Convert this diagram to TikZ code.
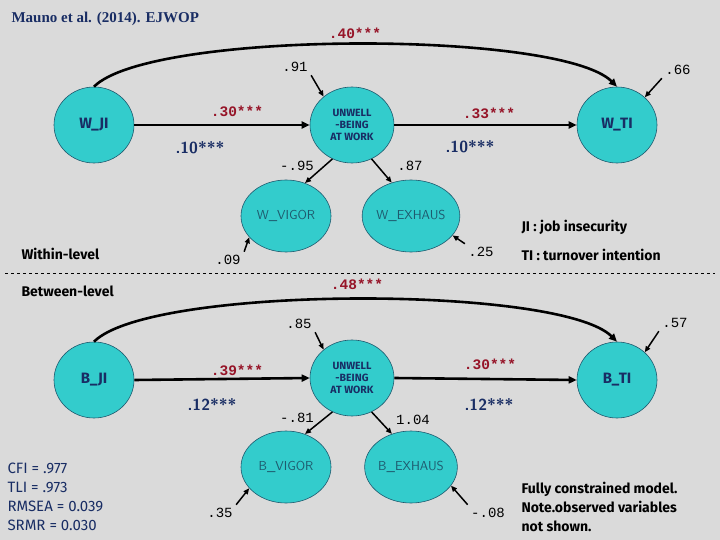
\documentclass[tikz,border=0pt]{standalone}
\usepackage{fontspec}
\setmainfont{Liberation Serif}
\newfontfamily\numf{Liberation Mono}
\newfontfamily\comf{Fira Sans}
\usetikzlibrary{shapes.geometric,arrows.meta}
\definecolor{bg}{RGB}{218,218,218}
\definecolor{cy}{RGB}{51,204,204}
\definecolor{rd}{RGB}{150,20,40}
\definecolor{nv}{RGB}{25,45,100}
\definecolor{tl}{RGB}{30,90,110}
\begin{document}
\begin{tikzpicture}[x=1pt,y=-1pt,
  lat/.style={ellipse,fill=cy,draw=tl,line width=0.6pt,minimum width=80pt,minimum height=76pt,inner sep=0pt},
  obs/.style={ellipse,fill=cy,draw=tl,line width=0.6pt,minimum width=90pt,minimum height=72pt,inner sep=0pt,font=\sffamily\fontsize{13}{14}\selectfont,text=tl},
  big/.style={font=\comf\bfseries\fontsize{15}{16}\selectfont,text=nv},
  mid/.style={font=\comf\bfseries\fontsize{10.5}{12}\selectfont,text=nv,align=center},
  path/.style={-{Triangle[length=8pt,width=7pt]},line width=2.6pt},
  res/.style={-{Triangle[length=6pt,width=5pt]},line width=1.5pt},
  num/.style={font=\numf\fontsize{14}{14}\selectfont},
  rnum/.style={font=\numf\bfseries\fontsize{14.5}{14}\selectfont,text=rd},
  bnum/.style={font=\sffamily\bfseries\fontsize{16}{16}\selectfont,text=nv},
  lbl/.style={font=\comf\bfseries\fontsize{14}{16}\selectfont,text=black,align=left}]
\fill[bg] (0,0) rectangle (720,540);
\useasboundingbox (0,0) rectangle (720,540);
\node[font=\bfseries\fontsize{15}{16}\selectfont,text=nv,anchor=west] (title) at (8,19) {Mauno et al. (2014). EJWOP};
% within
\node[lat,big] (wji) at (94,125) {W\_JI};
\node[lat,mid,minimum width=84pt] (wu) at (352,125) {UNWELL\\-BEING\\AT WORK};
\node[lat,big] (wti) at (617,125) {W\_TI};
\node[obs] (wv) at (286,216) {W\_VIGOR};
\node[obs] (we) at (411,216) {W\_EXHAUS};
\draw[path] (wji.north) .. controls (150,30) and (560,30) .. (wti.north);
\draw[path] (wji.east) -- (wu.west);
\draw[path] (wu.east) -- (wti.west);
\node[num] (n91) at (295,67) {.91};
\node[num] (n66) at (678,70) {.66};
\draw[res] (n91.south east) -- (wu.135);
\draw[res] (n66.south west) -- (wti.45);
\node[rnum] (a40) at (355,33) {.40***};
\node[rnum] (a30) at (237,111) {.30***};
\node[rnum] (a33) at (489,113) {.33***};
\node[bnum] (b10a) at (200,148) {.10***};
\node[bnum] (b10b) at (470,147) {.10***};
\draw[res] (wu.240) -- (wv.60);
\draw[res] (wu.300) -- (we.120);
\node[num] (n95) at (297,166) {-.95};
\node[num] (n87) at (410,166) {.87};
\node[num] (n09) at (228,260) {.09};
\node[num] (n25) at (481,252) {.25};
\draw[res] (n09.north east) -- (wv.210);
\draw[res] (n25.north west) -- (we.335);
\node[lbl,anchor=west] (k1) at (518,227) {JI : job insecurity};
\node[lbl,anchor=west] (k2) at (518,255) {TI : turnover intention};
\node[lbl,anchor=west] (wl) at (18,254) {Within-level};
\coordinate (d1) at (5,273); \coordinate (d2) at (715,273);
\draw[dashed,line width=0.6pt] (d1) -- (d2);
% between
\node[lbl,anchor=west] (bl) at (18,291) {Between-level};
\node[lat,big] (bji) at (94,380) {B\_JI};
\node[lat,mid,minimum width=84pt] (bu) at (352,378) {UNWELL\\-BEING\\AT WORK};
\node[lat,big] (bti) at (617,380) {B\_TI};
\node[obs] (bv) at (286,467) {B\_VIGOR};
\node[obs] (be) at (411,467) {B\_EXHAUS};
\draw[path] (bji.north) .. controls (150,285) and (560,285) .. (bti.north);
\draw[path] (bji.east) -- (bu.west);
\draw[path] (bu.east) -- (bti.west);
\node[num] (n85) at (299,324) {.85};
\node[num] (n57) at (675,323) {.57};
\draw[res] (n85.south east) -- (bu.135);
\draw[res] (n57.south west) -- (bti.45);
\node[rnum] (a48) at (357,284) {.48***};
\node[rnum] (a39) at (237,370) {.39***};
\node[rnum] (a30b) at (490,364) {.30***};
\node[bnum] (b12a) at (212,404) {.12***};
\node[bnum] (b12b) at (489,404) {.12***};
\draw[res] (bu.240) -- (bv.60);
\draw[res] (bu.300) -- (be.120);
\node[num] (n81) at (297,418) {-.81};
\node[num] (n104) at (413,420) {1.04};
\node[num] (n35) at (220,513) {.35};
\node[num] (n08) at (488,513) {-.08};
\draw[res] (n35.north east) -- (bv.210);
\draw[res] (n08.north west) -- (be.335);
\node[font=\comf\fontsize{15}{19}\selectfont,text=nv,align=left,anchor=west] (fit) at (4,497) {CFI = .977\\TLI = .973\\RMSEA = 0.039\\SRMR = 0.030};
\node[lbl,anchor=west,font=\comf\bfseries\fontsize{14}{19}\selectfont] (note) at (518,507) {Fully constrained model.\\Note.observed variables\\not shown.};
\end{tikzpicture}
\end{document}
